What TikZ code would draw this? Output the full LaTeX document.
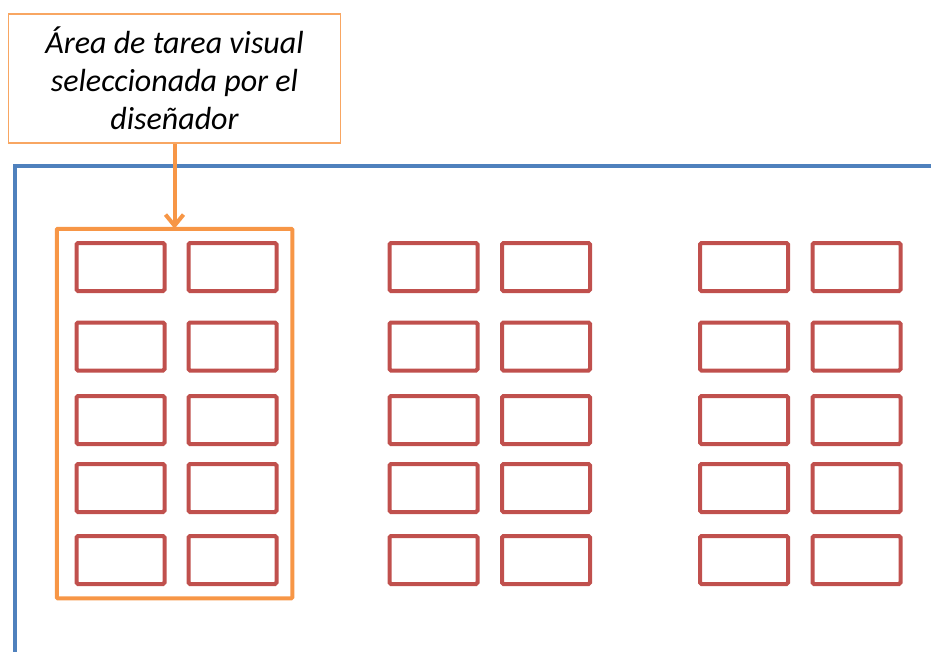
\documentclass[tikz,border=0pt]{standalone}
\usepackage{fontspec}
\setmainfont{Carlito}
\usetikzlibrary{arrows.meta}
\definecolor{frameblue}{HTML}{4F81BD}
\definecolor{selorange}{HTML}{F79646}
\definecolor{cellred}{HTML}{C0504D}
\tikzset{
  cell/.style={draw=cellred, line width=4pt, rounded corners=1.5pt,
    minimum width=88pt, minimum height=48pt, inner sep=0pt, outer sep=0pt},
  selbox/.style={draw=selorange, line width=4pt, rounded corners=1pt,
    minimum width=235.5pt, minimum height=369.5pt, inner sep=0pt, outer sep=0pt},
  callout/.style={draw=selorange!85, line width=1.5pt, align=center,
    minimum width=332pt, minimum height=129pt, inner sep=0pt,
    font=\fontsize{32}{38}\selectfont\itshape},
  pointer/.style={draw=selorange, line width=4pt,
    -{Straight Barb[length=11pt,width=18pt,line width=4pt]}}
}
\begin{document}
\begin{tikzpicture}[x=1pt,y=-1pt]
\useasboundingbox (0,0) rectangle (931,651);
% outer screen frame, running off the right and bottom edges
\coordinate (frameBL) at (15,660);
\coordinate (frameTL) at (15,165.5);
\coordinate (frameTR) at (940,165.5);
\begin{scope}
\clip (0,0) rectangle (931,651);
\draw[frameblue, line width=4pt] (frameBL) -- (frameTL) -- (frameTR);
\end{scope}
% callout text box
\node[callout] (call) at (174.5,78.5) {Área de tarea visual\\seleccionada por el\\diseñador};
% selected task area
\node[selbox] (sel) at (174.5,413.5) {};
% grid of cells: three groups, two columns each, five rows
\foreach \g/\xa/\xb in {1/120.5/232.5, 2/433.5/546, 3/744/856.5}{
  \foreach \r/\y in {1/267, 2/346.5, 3/420, 4/488, 5/560}{
    \node[cell] (c\g a\r) at (\xa,\y) {};
    \node[cell] (c\g b\r) at (\xb,\y) {};
  }
}
\draw[pointer] (call.south -| sel.north) -- (sel.north);
\end{tikzpicture}
\end{document}
